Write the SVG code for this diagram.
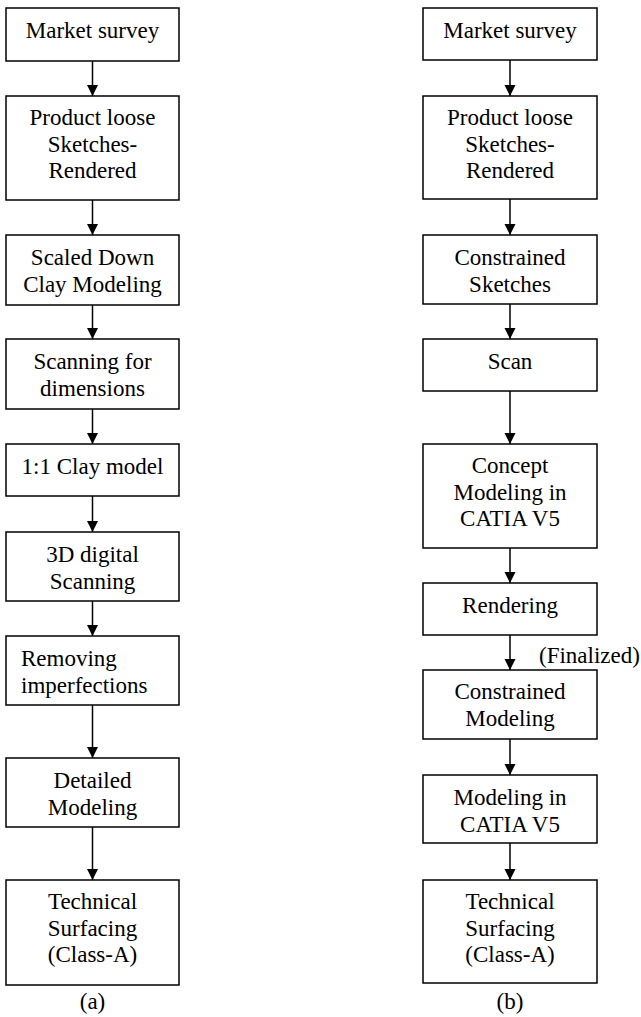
<svg xmlns="http://www.w3.org/2000/svg" width="641" height="1017" viewBox="0 0 641 1017">
<style>
.box{fill:#fff;stroke:#000;stroke-width:1.5}
text{font-family:'Liberation Serif', 'Times New Roman', 'DejaVu Serif', serif;font-size:23px;fill:#000}
.t{text-anchor:middle}
.tl{text-anchor:start}
.c{stroke:#000;stroke-width:1.5;fill:none}
</style>
<defs>
<marker id="ah" markerUnits="userSpaceOnUse" markerWidth="12" markerHeight="12" viewBox="0 0 12 12" refX="11" refY="6" orient="auto">
<path d="M0,0.5 L11,6 L0,11.5 Z" fill="#000"/>
</marker>
</defs>
<rect width="641" height="1017" fill="#fff"/>
<g id="connectors">
<line class="c" x1="92.5" y1="61" x2="92.5" y2="96" marker-end="url(#ah)"/>
<line class="c" x1="92.5" y1="200" x2="92.5" y2="235" marker-end="url(#ah)"/>
<line class="c" x1="92.5" y1="305" x2="92.5" y2="339" marker-end="url(#ah)"/>
<line class="c" x1="92.5" y1="409" x2="92.5" y2="444" marker-end="url(#ah)"/>
<line class="c" x1="92.5" y1="496" x2="92.5" y2="532" marker-end="url(#ah)"/>
<line class="c" x1="92.5" y1="601" x2="92.5" y2="636" marker-end="url(#ah)"/>
<line class="c" x1="92.5" y1="705" x2="92.5" y2="758" marker-end="url(#ah)"/>
<line class="c" x1="92.5" y1="827" x2="92.5" y2="880" marker-end="url(#ah)"/>
<line class="c" x1="510" y1="60" x2="510" y2="96" marker-end="url(#ah)"/>
<line class="c" x1="510" y1="199" x2="510" y2="235" marker-end="url(#ah)"/>
<line class="c" x1="510" y1="304" x2="510" y2="339" marker-end="url(#ah)"/>
<line class="c" x1="510" y1="391" x2="510" y2="444" marker-end="url(#ah)"/>
<line class="c" x1="510" y1="548" x2="510" y2="583" marker-end="url(#ah)"/>
<line class="c" x1="510" y1="635" x2="510" y2="670" marker-end="url(#ah)"/>
<line class="c" x1="510" y1="739" x2="510" y2="775" marker-end="url(#ah)"/>
<line class="c" x1="510" y1="843" x2="510" y2="880" marker-end="url(#ah)"/>
<text class="tl" x="539" y="663">(Finalized)</text>
</g>
<g id="a1"><rect class="box" x="6" y="8" width="173" height="53"/><text class="t" x="92.5" y="38">Market survey</text></g>
<g id="a2"><rect class="box" x="6" y="96" width="173" height="104"/><text class="t" x="92.5" y="125">Product loose<tspan x="92.5" dy="26.5">Sketches-</tspan><tspan x="92.5" dy="26.5">Rendered</tspan></text></g>
<g id="a3"><rect class="box" x="6" y="235" width="173" height="70"/><text class="t" x="92.5" y="265">Scaled Down<tspan x="92.5" dy="26.5">Clay Modeling</tspan></text></g>
<g id="a4"><rect class="box" x="6" y="339" width="173" height="70"/><text class="t" x="92.5" y="369">Scanning for<tspan x="92.5" dy="26.5">dimensions</tspan></text></g>
<g id="a5"><rect class="box" x="6" y="444" width="173" height="52"/><text class="t" x="92.5" y="474">1:1 Clay model</text></g>
<g id="a6"><rect class="box" x="6" y="532" width="173" height="69"/><text class="t" x="92.5" y="562">3D digital<tspan x="92.5" dy="26.5">Scanning</tspan></text></g>
<g id="a7"><rect class="box" x="6" y="636" width="173" height="69"/><text class="tl" x="21" y="666">Removing<tspan x="21" dy="26.5">imperfections</tspan></text></g>
<g id="a8"><rect class="box" x="6" y="758" width="173" height="69"/><text class="t" x="92.5" y="788">Detailed<tspan x="92.5" dy="26.5">Modeling</tspan></text></g>
<g id="a9"><rect class="box" x="6" y="880" width="173" height="105"/><text class="t" x="92.5" y="909">Technical<tspan x="92.5" dy="26.5">Surfacing</tspan><tspan x="92.5" dy="26.5">(Class-A)</tspan></text></g>
<g id="b1"><rect class="box" x="423" y="8" width="174" height="52"/><text class="t" x="510" y="38">Market survey</text></g>
<g id="b2"><rect class="box" x="423" y="96" width="174" height="103"/><text class="t" x="510" y="125">Product loose<tspan x="510" dy="26.5">Sketches-</tspan><tspan x="510" dy="26.5">Rendered</tspan></text></g>
<g id="b3"><rect class="box" x="423" y="235" width="174" height="69"/><text class="t" x="510" y="265">Constrained<tspan x="510" dy="26.5">Sketches</tspan></text></g>
<g id="b4"><rect class="box" x="423" y="339" width="174" height="52"/><text class="t" x="510" y="369">Scan</text></g>
<g id="b5"><rect class="box" x="423" y="444" width="174" height="104"/><text class="t" x="510" y="473">Concept<tspan x="510" dy="26.5">Modeling in</tspan><tspan x="510" dy="26.5">CATIA V5</tspan></text></g>
<g id="b6"><rect class="box" x="423" y="583" width="174" height="52"/><text class="t" x="510" y="613">Rendering</text></g>
<g id="b7"><rect class="box" x="423" y="670" width="174" height="69"/><text class="t" x="510" y="699">Constrained<tspan x="510" dy="26.5">Modeling</tspan></text></g>
<g id="b8"><rect class="box" x="423" y="775" width="174" height="68"/><text class="t" x="510" y="805">Modeling in<tspan x="510" dy="26.5">CATIA V5</tspan></text></g>
<g id="b9"><rect class="box" x="423" y="880" width="174" height="103"/><text class="t" x="510" y="909">Technical<tspan x="510" dy="26.5">Surfacing</tspan><tspan x="510" dy="26.5">(Class-A)</tspan></text></g>
<g id="captions"><text class="t" x="92.5" y="1009">(a)</text><text class="t" x="510" y="1009">(b)</text></g>
</svg>
